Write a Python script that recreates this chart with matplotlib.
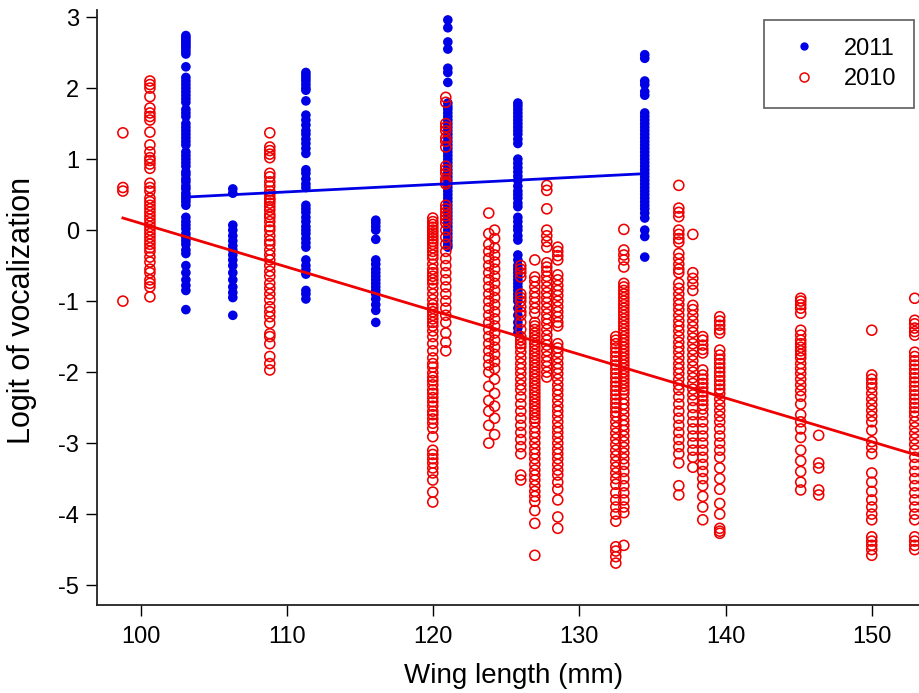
import matplotlib
matplotlib.use("Agg")
import matplotlib.pyplot as plt
from matplotlib.lines import Line2D

plt.rcParams['font.family'] = ['Liberation Sans', 'DejaVu Sans']
plt.rcParams['axes.unicode_minus'] = False

# ---- data: 2011 (filled blue), wing length columns and logit values ----
x_2011 = [103.08, 106.29, 111.29, 116.07, 121.0, 125.79, 134.47]
y_2011 = [
    [2.74, 2.71, 2.68, 2.65, 2.62, 2.59, 2.56, 2.52, 2.48, 2.3, 2.15, 2.1, 2.05, 2.0, 1.95, 1.9, 1.85,
     1.8, 1.7, 1.65, 1.6, 1.5, 1.45, 1.4, 1.35, 1.3, 1.25, 1.2, 1.1, 1.05, 1.0, 0.95, 0.9, 0.82, 0.78,
     0.72, 0.68, 0.62, 0.58, 0.52, 0.48, 0.44, 0.4, 0.35, 0.18, 0.12, 0.07, 0.02, -0.05, -0.1, -0.15,
     -0.2, -0.28, -0.33, -0.5, -0.6, -0.7, -0.78, -0.85, -1.12],
    [0.58, 0.52, 0.07, 0.0, -0.08, -0.15, -0.22, -0.28, -0.35, -0.42, -0.5, -0.6, -0.7, -0.8, -0.88,
     -0.95, -1.2],
    [2.22, 2.18, 2.14, 2.1, 2.05, 2.0, 1.97, 1.82, 1.62, 1.55, 1.48, 1.4, 1.35, 1.28, 1.22, 1.15, 1.08,
     0.85, 0.8, 0.72, 0.65, 0.6, 0.35, 0.3, 0.25, 0.18, 0.12, 0.05, 0.0, -0.05, -0.12, -0.18, -0.24,
     -0.42, -0.5, -0.56, -0.62, -0.85, -0.9, -0.97],
    [0.14, 0.1, 0.05, 0.0, -0.13, -0.42, -0.48, -0.55, -0.6, -0.65, -0.7, -0.75, -0.8, -0.85, -0.9,
     -0.97, -1.05, -1.13, -1.3],
    [2.96, 2.85, 2.65, 2.55, 2.28, 2.22, 2.08, 1.79, 1.74, 1.7, 1.65, 1.6, 1.55, 1.5, 1.45, 1.4, 1.35,
     1.3, 1.25, 1.2, 1.15, 1.1, 1.05, 1.0, 0.95, 0.9, 0.85, 0.8, 0.75, 0.7, 0.65, 0.6, 0.55, 0.5, 0.45,
     0.4, 0.35, 0.3, 0.25, 0.2, 0.15, 0.1, 0.05, 0.0, -0.05, -0.1, -0.15, -0.2, -0.24],
    [1.79, 1.75, 1.7, 1.65, 1.6, 1.55, 1.5, 1.45, 1.4, 1.35, 1.28, 1.22, 1.0, 0.94, 0.88, 0.82, 0.76,
     0.7, 0.62, 0.55, 0.5, 0.45, 0.38, 0.33, 0.18, 0.12, 0.05, 0.0, -0.08, -0.14, -0.35, -0.42, -0.5,
     -0.55, -0.6, -0.65, -0.7, -0.75, -0.8, -0.85, -0.9, -0.95, -1.0, -1.1, -1.2, -1.3, -1.38, -1.45],
    [2.47, 2.42, 2.1, 2.05, 1.95, 1.9, 1.65, 1.6, 1.55, 1.5, 1.45, 1.4, 1.35, 1.3, 1.25, 1.2, 1.15,
     1.1, 1.05, 1.0, 0.95, 0.9, 0.85, 0.8, 0.75, 0.7, 0.65, 0.6, 0.55, 0.5, 0.45, 0.4, 0.35, 0.3, 0.24,
     0.17, 0.0, -0.09, -0.38],
]

# ---- data: 2010 (open red) ----
x_2010 = [98.77, 100.62, 108.82, 119.97, 120.86, 123.8, 124.2, 125.99, 126.95, 127.77, 128.52,
          132.49, 133.04, 136.8, 137.76, 138.44, 139.6, 145.14, 146.37, 150.0, 152.94]
y_2010 = [
    [1.37, 0.6, 0.55, -1.0],
    [2.1, 2.05, 2.0, 1.88, 1.72, 1.65, 1.6, 1.55, 1.38, 1.2, 1.1, 1.02, 0.98, 0.93, 0.87, 0.66, 0.6,
     0.55, 0.45, 0.4, 0.35, 0.3, 0.25, 0.2, 0.15, 0.1, 0.05, 0.0, -0.05, -0.1, -0.15, -0.2, -0.25,
     -0.3, -0.38, -0.45, -0.55, -0.6, -0.7, -0.75, -0.8, -0.94],
    [1.37, 1.17, 1.12, 1.07, 1.02, 0.8, 0.75, 0.68, 0.62, 0.55, 0.5, 0.45, 0.42, 0.38, 0.33, 0.28,
     0.22, 0.18, 0.12, 0.05, 0.0, -0.08, -0.15, -0.2, -0.28, -0.35, -0.42, -0.5, -0.58, -0.65, -0.75,
     -0.82, -0.9, -0.98, -1.08, -1.15, -1.22, -1.31, -1.46, -1.5, -1.6, -1.78, -1.88, -1.97],
    [0.17, 0.12, 0.08, 0.04, 0.0, -0.04, -0.08, -0.12, -0.16, -0.2, -0.25, -0.3, -0.35, -0.4, -0.48,
     -0.55, -0.6, -0.65, -0.7, -0.75, -0.82, -0.9, -0.98, -1.05, -1.1, -1.15, -1.2, -1.25, -1.3,
     -1.35, -1.42, -1.5, -1.6, -1.7, -1.8, -1.88, -1.93, -2.01, -2.07, -2.12, -2.18, -2.25, -2.3,
     -2.36, -2.42, -2.48, -2.55, -2.6, -2.66, -2.72, -2.79, -2.91, -3.1, -3.16, -3.22, -3.28, -3.35,
     -3.42, -3.52, -3.69, -3.83],
    [1.87, 1.8, 1.5, 1.45, 1.4, 1.3, 1.25, 1.17, 0.9, 0.85, 0.8, 0.72, 0.68, 0.65, 0.35, 0.3, 0.25,
     0.2, 0.15, 0.1, 0.0, -0.1, -0.2, -0.3, -0.4, -0.5, -0.6, -0.7, -0.8, -0.9, -1.0, -1.1, -1.2,
     -1.3, -1.45, -1.58, -1.7],
    [0.24, -0.05, -0.2, -0.3, -0.4, -0.5, -0.6, -0.7, -0.8, -0.9, -1.0, -1.1, -1.2, -1.3, -1.4, -1.5,
     -1.6, -1.7, -1.8, -1.9, -2.0, -2.2, -2.4, -2.55, -2.75, -3.0],
    [0.0, -0.12, -0.25, -0.35, -0.45, -0.55, -0.65, -0.75, -0.85, -0.95, -1.05, -1.15, -1.25, -1.35,
     -1.45, -1.55, -1.65, -1.75, -1.85, -1.95, -2.1, -2.3, -2.48, -2.65, -2.88],
    [-0.5, -0.55, -0.6, -0.66, -0.9, -0.95, -1.0, -1.08, -1.15, -1.2, -1.3, -1.4, -1.5, -1.55, -1.6,
     -1.65, -1.72, -1.8, -1.88, -1.95, -2.02, -2.1, -2.18, -2.25, -2.35, -2.45, -2.55, -2.65, -2.75,
     -2.85, -2.95, -3.05, -3.15, -3.45, -3.52],
    [-0.42, -0.66, -0.72, -0.8, -0.88, -0.95, -1.02, -1.1, -1.17, -1.3, -1.35, -1.4, -1.45, -1.5,
     -1.55, -1.6, -1.65, -1.7, -1.75, -1.8, -1.85, -1.9, -1.95, -2.0, -2.05, -2.1, -2.15, -2.2, -2.25,
     -2.3, -2.35, -2.4, -2.45, -2.5, -2.55, -2.6, -2.65, -2.7, -2.78, -2.85, -2.92, -3.0, -3.08,
     -3.15, -3.22, -3.3, -3.38, -3.45, -3.52, -3.6, -3.68, -3.75, -3.82, -3.95, -4.13, -4.58],
    [0.63, 0.56, 0.3, 0.0, -0.08, -0.16, -0.24, -0.46, -0.52, -0.58, -0.65, -0.72, -0.8, -0.88,
     -0.95, -1.02, -1.1, -1.18, -1.25, -1.32, -1.4, -1.48, -1.55, -1.62, -1.7, -1.78, -1.85, -1.92,
     -2.0, -2.07],
    [-0.24, -0.3, -0.36, -0.42, -0.63, -0.7, -0.78, -0.85, -0.92, -1.0, -1.08, -1.15, -1.22, -1.3,
     -1.35, -1.6, -1.66, -1.72, -1.8, -1.88, -1.95, -2.02, -2.1, -2.18, -2.25, -2.32, -2.4, -2.48,
     -2.55, -2.62, -2.7, -2.78, -2.85, -2.92, -3.0, -3.08, -3.15, -3.22, -3.3, -3.38, -3.45, -3.55,
     -3.65, -3.8, -4.04, -4.2],
    [-1.5, -1.55, -1.6, -1.66, -1.72, -1.78, -1.84, -1.9, -1.96, -2.02, -2.08, -2.14, -2.2, -2.26,
     -2.32, -2.38, -2.44, -2.5, -2.56, -2.62, -2.7, -2.78, -2.86, -2.94, -3.02, -3.1, -3.18, -3.26,
     -3.34, -3.42, -3.5, -3.58, -3.7, -3.8, -3.9, -4.0, -4.1, -4.46, -4.52, -4.6, -4.69],
    [0.01, -0.28, -0.35, -0.42, -0.52, -0.75, -0.8, -0.85, -0.9, -0.95, -1.0, -1.05, -1.1, -1.15,
     -1.2, -1.25, -1.3, -1.35, -1.4, -1.45, -1.5, -1.55, -1.6, -1.65, -1.7, -1.75, -1.8, -1.85, -1.9,
     -1.95, -2.0, -2.05, -2.1, -2.15, -2.2, -2.25, -2.3, -2.38, -2.45, -2.52, -2.6, -2.68, -2.75,
     -2.82, -2.9, -2.98, -3.06, -3.14, -3.22, -3.3, -3.4, -3.5, -3.6, -3.7, -3.8, -3.9, -3.98, -4.44],
    [0.63, 0.31, 0.25, 0.19, 0.0, -0.06, -0.12, -0.17, -0.33, -0.4, -0.48, -0.55, -0.6, -0.75, -0.82,
     -0.9, -0.98, -1.05, -1.12, -1.2, -1.28, -1.35, -1.42, -1.5, -1.58, -1.65, -1.72, -1.8, -1.88,
     -1.95, -2.02, -2.1, -2.18, -2.25, -2.35, -2.45, -2.55, -2.65, -2.75, -2.85, -2.95, -3.05, -3.15,
     -3.28, -3.6, -3.73],
    [-0.06, -0.6, -0.68, -0.76, -0.85, -1.06, -1.12, -1.2, -1.28, -1.36, -1.44, -1.52, -1.6, -1.68,
     -1.76, -1.84, -1.92, -2.0, -2.08, -2.16, -2.24, -2.32, -2.4, -2.5, -2.6, -2.7, -2.8, -2.9, -3.0,
     -3.1, -3.2, -3.34],
    [-1.5, -1.55, -1.62, -1.68, -1.73, -1.97, -2.04, -2.1, -2.16, -2.22, -2.28, -2.34, -2.4, -2.46,
     -2.52, -2.6, -2.7, -2.8, -2.9, -3.0, -3.1, -3.2, -3.3, -3.4, -3.5, -3.6, -3.75, -3.9, -4.08],
    [-1.22, -1.28, -1.34, -1.4, -1.45, -1.69, -1.76, -1.82, -1.88, -1.94, -2.0, -2.06, -2.12, -2.18,
     -2.24, -2.3, -2.38, -2.46, -2.54, -2.62, -2.7, -2.8, -2.9, -3.0, -3.1, -3.2, -3.35, -3.5, -3.65,
     -3.85, -4.0, -4.2, -4.24, -4.27],
    [-0.96, -1.0, -1.05, -1.1, -1.17, -1.41, -1.48, -1.55, -1.6, -1.65, -1.7, -1.75, -1.8, -1.88,
     -1.95, -2.02, -2.1, -2.18, -2.26, -2.34, -2.45, -2.6, -2.7, -2.8, -2.92, -3.1, -3.25, -3.4,
     -3.55, -3.66],
    [-2.89, -3.28, -3.35, -3.66, -3.73],
    [-1.41, -2.04, -2.1, -2.16, -2.22, -2.3, -2.38, -2.46, -2.54, -2.62, -2.7, -2.82, -2.98, -3.06,
     -3.15, -3.42, -3.55, -3.68, -3.8, -3.9, -4.0, -4.08, -4.32, -4.38, -4.44, -4.5, -4.58],
    [-0.96, -1.27, -1.32, -1.38, -1.43, -1.48, -1.72, -1.78, -1.84, -1.9, -1.96, -2.02, -2.08, -2.14,
     -2.2, -2.26, -2.32, -2.38, -2.44, -2.5, -2.56, -2.62, -2.7, -2.78, -2.86, -2.94, -3.02, -3.1,
     -3.2, -3.3, -3.4, -3.5, -3.6, -3.7, -3.8, -3.9, -4.0, -4.08, -4.32, -4.38, -4.44, -4.5],
]

# fitted regression lines: (x start, x end), intercept, slope
fit_2011_range = [103.08, 134.47]
fit_2011_coef = [-0.617, 0.0105]
fit_2010_range = [98.77, 153.4]
fit_2010_coef = [6.245, -0.0615]

x_ticks = [100, 110, 120, 130, 140, 150]
y_ticks = [-5, -4, -3, -2, -1, 0, 1, 2, 3]

fig = plt.figure(figsize=(9.2, 6.93), dpi=100)
ax = fig.add_axes([97 / 920, 1 - 605 / 693, 1 - 97 / 920, (605 - 10) / 693])

bx, by = [], []
for xv, ys in zip(x_2011, y_2011):
    bx += [xv] * len(ys)
    by += ys
rx, ry = [], []
for xv, ys in zip(x_2010, y_2010):
    rx += [xv] * len(ys)
    ry += ys

ax.scatter(bx, by, s=48, color='#0000e6', edgecolors='none', zorder=2)
ax.scatter(rx, ry, s=52, facecolors='none', edgecolors='#ee0000', linewidths=1.15, zorder=3)

for rng, coef, col in [(fit_2011_range, fit_2011_coef, '#0000e6'), (fit_2010_range, fit_2010_coef, '#ee0000')]:
    ys = [coef[0] + coef[1] * v for v in rng]
    ax.plot(rng, ys, color=col, lw=2.0, zorder=4)

ax.set_xlim(97.0, 153.3)
ax.set_ylim(-5.28, 3.1)
ax.set_xticks(x_ticks)
ax.set_yticks(y_ticks)
ax.tick_params(axis='both', direction='out', length=8, width=1.0, labelsize=17, colors='black')
ax.tick_params(axis='x', pad=7)
ax.tick_params(axis='y', pad=5)
for sp in ['top', 'right']:
    ax.spines[sp].set_visible(False)
for sp in ['left', 'bottom']:
    ax.spines[sp].set_linewidth(1.3)
    ax.spines[sp].set_color('#222222')

fig.text(514 / 920, 1 - 676 / 693, 'Wing length (mm)', ha='center', va='center', fontsize=20)
fig.text(22 / 920, 1 - 310 / 693, 'Logit of vocalization', ha='center', va='center',
         rotation=90, fontsize=22)

handles = [Line2D([], [], ls='none', marker='o', ms=6, mfc='#0000e6', mec='none'),
           Line2D([], [], ls='none', marker='o', ms=6.5, mfc='none', mec='#ee0000', mew=1.1)]
leg = ax.legend(handles, ['2011', '2010'], loc='upper right',
                bbox_to_anchor=(914 / 920, 1 - 20 / 693), bbox_transform=fig.transFigure,
                fontsize=17, frameon=True, fancybox=False, edgecolor='#333333',
                borderpad=0.75, handletextpad=0.75, labelspacing=0.35, borderaxespad=0,
                handlelength=1.9)
leg.get_frame().set_linewidth(1.2)

fig.savefig('out.png', dpi=100)
